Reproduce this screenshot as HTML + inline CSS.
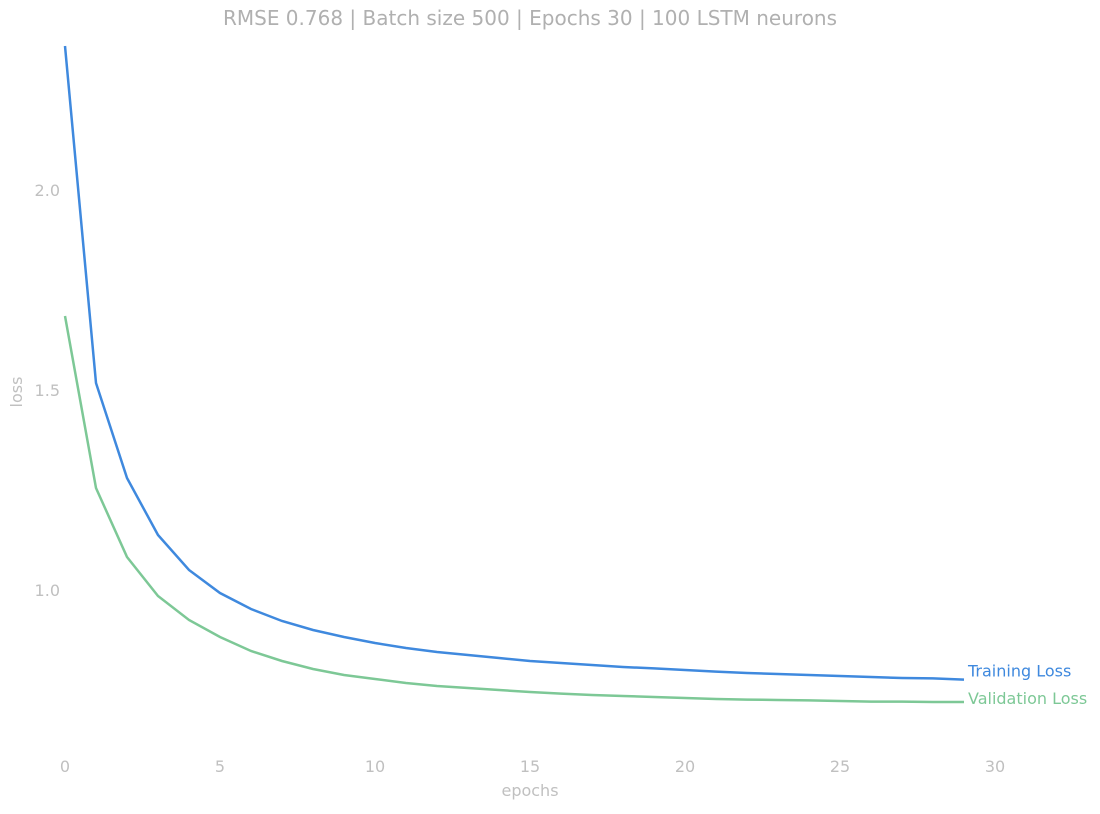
<!DOCTYPE html>
<html><head><meta charset="utf-8"><style>
body{margin:0;background:#fff;font-family:"DejaVu Sans","Liberation Sans",sans-serif}
svg text{font-family:"DejaVu Sans","Liberation Sans",sans-serif}
</style></head><body>
<svg id="chart" width="1100" height="810">
<text x="530" y="25" text-anchor="middle" font-size="20" fill="#b0b0b0">RMSE 0.768 | Batch size 500 | Epochs 30 |  100 LSTM neurons</text>
<text x="530" y="796" text-anchor="middle" font-size="16" fill="#c0c0c0">epochs</text>
<text x="22" y="392" text-anchor="middle" font-size="16" fill="#c0c0c0" transform="rotate(-90 22 392)">loss</text>
<g id="xt"></g><g id="yt"></g><g id="lines"></g>
</svg>
<script>
const xTicks=[0,5,10,15,20,25,30];
const yTicks=[1.0,1.5,2.0];
const epochs=[0,1,2,3,4,5,6,7,8,9,10,11,12,13,14,15,16,17,18,19,20,21,22,23,24,25,26,27,28,29];
const trainLoss=[2.36,1.5175,1.28,1.1375,1.05,0.9925,0.9525,0.9225,0.90,0.8825,0.8675,0.855,0.845,0.8375,0.83,0.8225,0.8175,0.8125,0.8075,0.804,0.80,0.796,0.7925,0.79,0.7875,0.785,0.7825,0.78,0.779,0.776];
const valLoss=[1.685,1.255,1.0825,0.985,0.925,0.8825,0.8475,0.8225,0.8025,0.7875,0.7775,0.7675,0.76,0.755,0.75,0.745,0.741,0.7375,0.735,0.7325,0.73,0.7275,0.726,0.725,0.724,0.7225,0.721,0.721,0.72,0.72];
const seriesNames=["Training Loss","Validation Loss"];
const NS="http://www.w3.org/2000/svg";
const xs=v=>65+v*31, ys=v=>590-(v-1)*400;
const xt=document.getElementById('xt'), yt=document.getElementById('yt'), lg=document.getElementById('lines');
xTicks.forEach(v=>{const t=document.createElementNS(NS,'text');
t.setAttribute('x',xs(v));t.setAttribute('y',772);t.setAttribute('text-anchor','middle');t.setAttribute('font-size','16');t.setAttribute('fill','#c0c0c0');t.textContent=v;


xt.appendChild(t);});
yTicks.forEach(v=>{const t=document.createElementNS(NS,'text');
t.setAttribute('x',60);t.setAttribute('y',ys(v)+6);t.setAttribute('text-anchor','end');t.setAttribute('font-size','16');t.setAttribute('fill','#c0c0c0');t.textContent=v.toFixed(1);


yt.appendChild(t);});
function draw(data,color,name,label,dy){
const p=document.createElementNS(NS,'path');
p.setAttribute('d',data.map((v,i)=>(i?'L':'M')+xs(epochs[i])+','+ys(v)).join(''));
p.setAttribute('fill','none');p.setAttribute('stroke',color);p.setAttribute('stroke-width','2.5');


lg.appendChild(p);
const t=document.createElementNS(NS,'text');
const last=data.length-1;
t.setAttribute('x',xs(epochs[last])+4);t.setAttribute('y',ys(data[last])+dy);t.setAttribute('font-size','16');t.setAttribute('fill',color);t.textContent=label;


lg.appendChild(t);}
draw(trainLoss,'#3f89de','training-loss-line',seriesNames[0],-3);
draw(valLoss,'#7dc896','validation-loss-line',seriesNames[1],2);
</script>
</body></html>
